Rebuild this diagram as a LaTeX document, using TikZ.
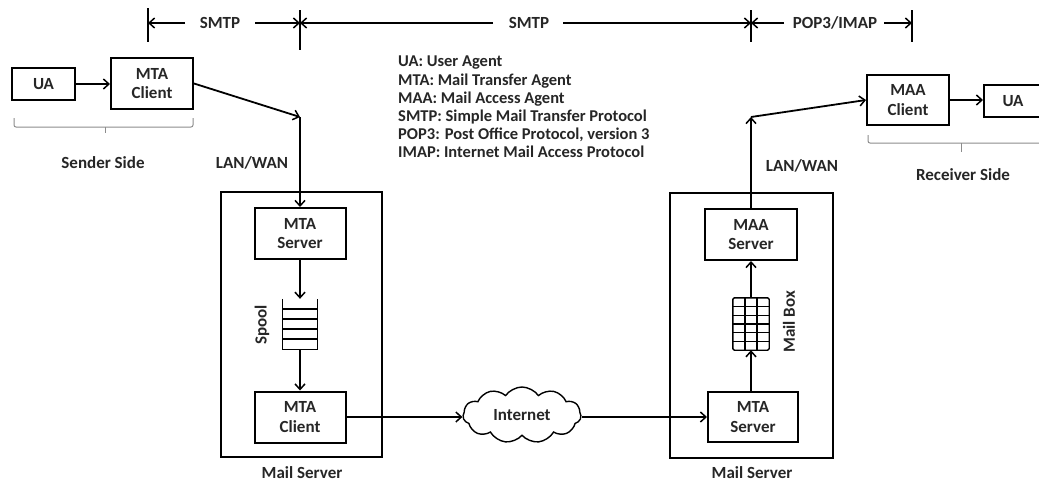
\documentclass[tikz,border=0pt]{standalone}
\usepackage{fontspec}
\setmainfont{Carlito}
\usetikzlibrary{arrows.meta,shapes.symbols}
\begin{document}
\begin{tikzpicture}[x=1pt,y=-1pt,
  every node/.style={font=\fontsize{17}{19.5}\selectfont\bfseries, text=black!85},
  box/.style={draw=black, line width=2pt, inner sep=0pt, align=center},
  frame/.style={draw=black, line width=2pt, inner sep=0pt},
  arr/.style={-{Straight Barb[length=5.5pt,width=10pt,line width=1.5pt]}, line width=1.8pt},
  brace/.style={draw=black!45, line width=1pt, rounded corners=2pt},
  dim/.style={line width=1.6pt},
  rot/.style={rotate=90}
]
\useasboundingbox (0,0) rectangle (1039,482);

% top dimension lines
\draw[dim] (148,8) -- (148,42);
\draw[dim] (300,10) -- (300,50);
\draw[dim] (751,10) -- (751,42);
\draw[dim] (912,10) -- (912,42);
\coordinate (t1) at (148,23);
\coordinate (t2) at (300,23);
\coordinate (t3) at (751,23);
\coordinate (t4) at (912,23);
\node (s1) at (220,23) {SMTP};
\node (s2) at (529,23) {SMTP};
\node (s3) at (835,23) {POP3/IMAP};
\coordinate (a1) at (185,23);
\coordinate (a2) at (255,23);
\coordinate (a3) at (493,23);
\coordinate (a4) at (563,23);
\coordinate (a5) at (784,23);
\coordinate (a6) at (884,23);
\draw[arr] (a1) -- (t1);
\draw[arr] (a2) -- (t2);
\draw[arr] (a3) -- (t2);
\draw[arr] (a4) -- (t3);
\draw[arr] (a5) -- (t3);
\draw[arr] (a6) -- (t4);

% legend
\node[anchor=north west, align=left, inner sep=0pt, font=\fontsize{16.5}{18.2}\selectfont\bfseries] (legend) at (398,56)
{UA: User Agent\\MTA: Mail Transfer Agent\\MAA: Mail Access Agent\\SMTP: Simple Mail Transfer Protocol\\POP3: Post Office Protocol, version 3\\IMAP: Internet Mail Access Protocol};

% sender side
\node[box, minimum width=63pt, minimum height=32pt] (ua1) at (43.5,84) {UA};
\node[box, minimum width=82pt, minimum height=51pt] (mtac1) at (152,83.5) {MTA\\Client};
\draw[arr] (ua1.east) -- (ua1.east -| mtac1.west);
\draw[brace] (14,118) -- (14,127) -- (193,127) -- (193,118);
\draw[brace] (105,127) -- (105,133);
\node (sender) at (103,163) {Sender Side};
\node (lan1) at (252,163) {LAN/WAN};
\coordinate (c1) at (300,117);

% left mail server
\node[frame, minimum width=161pt, minimum height=265pt] (ms1) at (301.5,324.5) {};
\node (ms1lab) at (302,473) {Mail Server};
\node[box, minimum width=91pt, minimum height=51pt] (mtas1) at (300,233.5) {MTA\\Server};
\node[minimum width=35pt, minimum height=50pt, inner sep=0pt] (spool) at (300,324) {};
\draw[line width=1.4pt] (spool.north west) -- (spool.south west) -- (spool.south east) -- (spool.north east);
\foreach \yy in {309,319,329,339} \draw[line width=1.4pt] (282.5,\yy) -- (317.5,\yy);
\node[rot] (spoollab) at (262,325) {Spool};
\node[box, minimum width=91pt, minimum height=51pt] (mtacl2) at (300,417) {MTA\\Client};
\draw[arr] (mtac1.east) -- (c1);
\draw[arr] (c1) -- (mtas1.north);
\draw[arr] (mtas1.south) -- (spool.north);
\draw[arr] (spool.south) -- (mtacl2.north);

% internet
\node[cloud, draw=black, cloud puffs=11, cloud puff arc=110, aspect=2.1, minimum width=118pt, minimum height=56pt, line width=1.4pt, inner sep=0pt] (net) at (522,415) {Internet};

% right mail server
\node[frame, minimum width=163pt, minimum height=265pt] (ms2) at (751.5,325.5) {};
\node (ms2lab) at (752,473) {Mail Server};
\node[box, minimum width=92pt, minimum height=51pt] (maas) at (751,234.5) {MAA\\Server};
\node[minimum width=36pt, minimum height=52pt, inner sep=0pt] (mb) at (751,324) {};
\draw[line width=1.4pt, rounded corners=1.5pt] (mb.north west) rectangle (mb.south east);
\foreach \xx in {745,757} \draw[line width=1.4pt] (\xx,298) -- (\xx,350);
\foreach \yy in {306.67,315.33,324,332.67,341.33} \draw[line width=1.4pt] (733,\yy) -- (769,\yy);
\node[rot] (mblab) at (789,322) {Mail Box};
\node[box, minimum width=90pt, minimum height=50pt] (mtas2) at (753,417) {MTA\\Server};
\draw[arr] (mtacl2.east) -- (mtacl2.east -| net.west);
\draw[arr] (net.east |- mtas2.west) -- (mtas2.west);
\draw[arr] (mtas2.north -| mb.south) -- (mb.south);
\draw[arr] (mb.north) -- (maas.south);

% receiver side
\coordinate (c2) at (751,117);
\node[box, minimum width=82pt, minimum height=50pt] (maac) at (908,100) {MAA\\Client};
\node[box, minimum width=58pt, minimum height=32pt] (ua2) at (1013,101) {UA};
\draw[arr] (maas.north) -- (c2);
\draw[arr] (c2) -- (maac.west);
\draw[arr] (maac.east) -- (maac.east -| ua2.west);
\draw[brace] (868,135) -- (868,143) -- (1045,143);
\draw[brace] (961,143) -- (961,152);
\node (lan2) at (802,166) {LAN/WAN};
\node (receiver) at (963,175) {Receiver Side};
\end{tikzpicture}
\end{document}
